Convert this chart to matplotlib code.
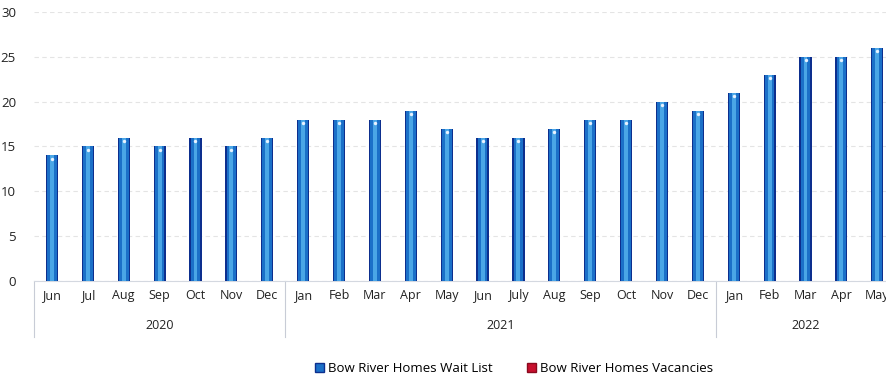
import numpy as np
import matplotlib.pyplot as plt
from matplotlib.patches import Patch
import matplotlib.transforms as mtransforms

plt.rcParams['font.family'] = ['Open Sans', 'DejaVu Sans']

years = ['2020', '2021', '2022']
months = [
    ['Jun', 'Jul', 'Aug', 'Sep', 'Oct', 'Nov', 'Dec'],
    ['Jan', 'Feb', 'Mar', 'Apr', 'May', 'Jun', 'July', 'Aug', 'Sep', 'Oct', 'Nov', 'Dec'],
    ['Jan', 'Feb', 'Mar', 'Apr', 'May'],
]
wait_list = [14, 15, 16, 15, 16, 15, 16,
             18, 18, 18, 19, 17, 16, 16, 17, 18, 18, 20, 19,
             21, 23, 25, 25, 26]
vacancies = [0] * 24

labels = [m for grp in months for m in grp]
x = np.arange(len(labels))

fig = plt.figure(figsize=(8.86, 3.81), dpi=100)
ax = fig.add_axes([0.0384, 0.2625, 0.972, 0.706])

# cylinder look: dark outer bar, mid blue, light core
ax.bar(x, wait_list, width=0.34, color='#0d2f8e', zorder=3)
ax.bar(x, wait_list, width=0.27, color='#1b70c8', zorder=4)
ax.bar(x, wait_list, width=0.11, color='#4aa6e6', zorder=5)
ax.scatter(x, np.array(wait_list) - 0.35, s=6, color='#e8f2ff', zorder=6, linewidths=0)
ax.bar(x + 0.2, vacancies, width=0.3, color='#c8102e', zorder=3)

ax.set_xlim(-0.5, len(labels) - 0.5)
ax.set_ylim(0, 30)
ax.set_yticks(range(0, 31, 5))
ax.tick_params(axis='y', length=0, labelsize=9.5, pad=13, colors='#222222')
ax.set_xticks(x)
ax.set_xticklabels(labels)
ax.tick_params(axis='x', length=0, labelsize=9, pad=6, colors='#222222')
ax.yaxis.grid(True, color='#e4e4e4', linestyle=(0, (4, 3)), linewidth=0.8)
ax.set_axisbelow(True)
for s in ['top', 'right', 'left']:
    ax.spines[s].set_visible(False)
ax.spines['bottom'].set_color('#d4d8e0')
ax.spines['bottom'].set_linewidth(0.8)

# year grouping under the month labels
trans = mtransforms.blended_transform_factory(ax.transData, ax.transAxes)
start = 0
bounds = [-0.5]
for yr, grp in zip(years, months):
    end = start + len(grp)
    ax.text((start + end - 1) / 2, -0.165, yr, transform=trans,
            ha='center', va='center', fontsize=9, color='#222222')
    bounds.append(end - 0.5)
    start = end
for b in bounds[:-1]:
    ax.plot([b, b], [0, -0.21], transform=trans, color='#c8ccd6',
            linewidth=0.8, clip_on=False)

handles = [Patch(facecolor='#1b70c8', edgecolor='#0d2f8e'),
           Patch(facecolor='#c8102e', edgecolor='#8a0a1e')]
fig.legend(handles, ['Bow River Homes Wait List', 'Bow River Homes Vacancies'],
           loc='center', bbox_to_anchor=(0.58, 0.032), ncol=2, frameon=False,
           fontsize=9.5, handlelength=0.7, handleheight=0.7, columnspacing=2.6,
           handletextpad=0.3)

fig.savefig('out.png', dpi=100)
